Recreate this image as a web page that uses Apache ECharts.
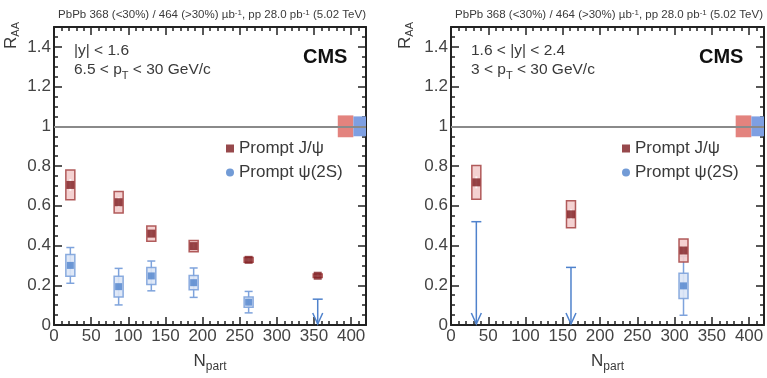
<!DOCTYPE html>
<html>
<head>
<meta charset="utf-8">
<script src="https://cdn.jsdelivr.net/npm/echarts@6/dist/echarts.min.js"></script>
<style>
  html, body { margin: 0; padding: 0; background: #fff; }
  #chart { width: 767px; height: 378px; }
</style>
</head>
<body>
<div id="chart"></div>
<script>
// |y| < 1.6 panel
var npartMid = [22, 87, 131, 188, 262, 355];
var jpsiMid = [0.705, 0.618, 0.46, 0.397, 0.328, 0.248];
var jpsiMidSyst = [0.075, 0.054, 0.038, 0.028, 0.012, 0.009];
var jpsiMidStat = [0.03, 0.025, 0.015, 0.012, 0.008, 0.006];
var psiNpartMid = [22, 87, 131, 188, 262];
var psiMid = [0.30, 0.193, 0.247, 0.213, 0.115];
var psiMidSyst = [0.055, 0.052, 0.043, 0.036, 0.026];
var psiMidStat = [0.09, 0.092, 0.075, 0.074, 0.054];
var psiMidLimitNpart = [355];
var psiMidLimit = [0.13];

// 1.6 < |y| < 2.4 panel
var npartFwd = [34, 161, 312];
var jpsiFwd = [0.718, 0.557, 0.375];
var jpsiFwdSyst = [0.085, 0.068, 0.058];
var jpsiFwdStat = [0.03, 0.025, 0.02];
var psiNpartFwd = [312];
var psiFwd = [0.197];
var psiFwdSyst = [0.064];
var psiFwdStat = [0.148];
var psiFwdLimitNpart = [34, 161];
var psiFwdLimit = [0.52, 0.29];

// global uncertainties (boxes at R_AA = 1)
var globalJpsi = [382, 403, 0.055];
var globalPsi = [403, 420, 0.05];

var yTicks = [0, 0.2, 0.4, 0.6, 0.8, 1, 1.2, 1.4];
var xTicks = [0, 50, 100, 150, 200, 250, 300, 350, 400];

var RED = '#7d1c1f', RED_BOX = '#a84a4a', RED_FILL = '#f3cccc';
var BLUE = '#4f82cc', BLUE_BOX = '#7ea3dc', BLUE_FILL = '#dbe6f6';
var TXT = '#3a3a3a';
var FONT = 'Liberation Sans, Arial, sans-serif';

var myChart = echarts.init(document.getElementById('chart'));

function zip4(a, b, c, d) {
  return a.map(function (v, i) { return [v, b[i], c[i], d[i]]; });
}

// box = systematic uncertainty, bar = statistical
function boxRender(stroke, fill, barColor, withCaps) {
  return function (params, api) {
    var x = api.value(0), y = api.value(1), s = api.value(2), e = api.value(3);
    var top = api.coord([x, y + s]), bot = api.coord([x, y - s]);
    var et = api.coord([x, y + e]), eb = api.coord([x, y - e]);
    var hw = 4.5;
    var kids = [];
    if (withCaps) {
      kids.push({ type: 'line', shape: { x1: et[0], y1: et[1], x2: eb[0], y2: eb[1] }, style: { stroke: barColor, lineWidth: 1.5 } });
      kids.push({ type: 'line', shape: { x1: et[0] - 4, y1: et[1], x2: et[0] + 4, y2: et[1] }, style: { stroke: barColor, lineWidth: 1.5 } });
      kids.push({ type: 'line', shape: { x1: eb[0] - 4, y1: eb[1], x2: eb[0] + 4, y2: eb[1] }, style: { stroke: barColor, lineWidth: 1.5 } });
    }
    kids.push({ type: 'rect', shape: { x: top[0] - hw, y: top[1], width: hw * 2, height: bot[1] - top[1] },
      style: { fill: fill, stroke: stroke, lineWidth: 1.5, opacity: 0.9 } });
    if (!withCaps) {
      kids.push({ type: 'line', shape: { x1: et[0], y1: et[1], x2: eb[0], y2: eb[1] }, style: { stroke: '#fff', lineWidth: 2, opacity: 0.8 } });
    }
    return { type: 'group', children: kids };
  };
}

function limitRender(params, api) {
  var x = api.value(0), ul = api.value(1);
  var t = api.coord([x, ul]), b = api.coord([x, 0]);
  var st = { stroke: BLUE, lineWidth: 1.5 };
  return { type: 'group', children: [
    { type: 'line', shape: { x1: t[0], y1: t[1], x2: b[0], y2: b[1] - 1 }, style: st },
    { type: 'line', shape: { x1: t[0] - 5, y1: t[1], x2: t[0] + 5, y2: t[1] }, style: st },
    { type: 'polyline', shape: { points: [[b[0] - 5, b[1] - 12], [b[0], b[1] - 1], [b[0] + 5, b[1] - 12]] }, style: { stroke: BLUE, lineWidth: 1.5, fill: null } }
  ] };
}

function globalRender(params, api) {
  var a = api.coord([api.value(0), 1 + api.value(2)]);
  var b = api.coord([api.value(1), 1 - api.value(2)]);
  return { type: 'rect', shape: { x: a[0], y: a[1], width: b[0] - a[0], height: b[1] - a[1] },
    style: { fill: api.visual('color') } };
}

function xAxes(grid) {
  var common = { type: 'value', min: 0, max: 420, interval: 50, gridIndex: grid,
    axisLine: { show: true, onZero: false, lineStyle: { color: '#222', width: 2 } },
    axisTick: { inside: true, length: 8, lineStyle: { color: '#222', width: 1.5 } },
    minorTick: { show: true, splitNumber: 5, length: 4, lineStyle: { color: '#222', width: 1.5 } },
    splitLine: { show: false } };
  return [
    Object.assign({}, common, { position: 'bottom',
      name: '{n|N}{s|part}', nameLocation: 'middle', nameGap: 24,
      nameTextStyle: { rich: { n: { fontSize: 17, color: TXT, fontFamily: FONT }, s: { fontSize: 12, color: TXT, fontFamily: FONT, padding: [12, 0, 0, 0] } } },
      axisLabel: { fontSize: 17, color: '#444', fontFamily: FONT, margin: 3, showMaxLabel: false } }),
    Object.assign({}, common, { position: 'top', axisLabel: { show: false } })
  ];
}

function yAxes(grid) {
  var common = { type: 'value', min: 0, max: 1.5, interval: 0.2, gridIndex: grid,
    axisLine: { show: true, onZero: false, lineStyle: { color: '#222', width: 2 } },
    axisTick: { inside: true, length: 8, lineStyle: { color: '#222', width: 1.5 } },
    minorTick: { show: true, splitNumber: 4, length: 4, lineStyle: { color: '#222', width: 1.5 } },
    splitLine: { show: false } };
  return [
    Object.assign({}, common, { position: 'left',
      axisLabel: { fontSize: 17, color: '#444', fontFamily: FONT, margin: 3, showMaxLabel: false,
        formatter: function (v) { return yTicks.indexOf(Math.round(v * 10) / 10) >= 0 ? String(Math.round(v * 10) / 10) : ''; } } }),
    Object.assign({}, common, { position: 'right', axisLabel: { show: false } })
  ];
}

function panelSeries(p, npart, jpsi, jSyst, jStat, psiN, psi, pSyst, pStat, limN, lim) {
  var xi = p * 2, yi = p * 2;
  return [
    { type: 'custom', name: 'global', xAxisIndex: xi, yAxisIndex: yi, renderItem: globalRender, silent: true,
      data: [globalJpsi], itemStyle: { color: '#e3837e' }, z: 1 },
    { type: 'custom', name: 'global2', xAxisIndex: xi, yAxisIndex: yi, renderItem: globalRender, silent: true,
      data: [globalPsi], itemStyle: { color: '#7e9fe2' }, z: 1 },
    { type: 'line', name: 'unity', xAxisIndex: xi, yAxisIndex: yi, data: [], silent: true,
      markLine: { symbol: 'none', silent: true, label: { show: false },
        lineStyle: { color: '#8a8a8a', width: 2, type: 'solid' }, data: [{ yAxis: 1 }] }, z: 2 },
    { type: 'custom', name: 'psiBox', xAxisIndex: xi, yAxisIndex: yi, z: 3,
      renderItem: boxRender(BLUE_BOX, BLUE_FILL, BLUE_BOX, true), data: zip4(psiN, psi, pSyst, pStat) },
    { type: 'custom', name: 'limit', xAxisIndex: xi, yAxisIndex: yi, z: 3,
      renderItem: limitRender, data: limN.map(function (v, i) { return [v, lim[i]]; }) },
    { type: 'custom', name: 'jpsiBox', xAxisIndex: xi, yAxisIndex: yi, z: 3,
      renderItem: boxRender(RED_BOX, RED_FILL, '#fff', false), data: zip4(npart, jpsi, jSyst, jStat) },
    { type: 'scatter', name: 'Prompt ψ(2S)', xAxisIndex: xi, yAxisIndex: yi, z: 4, symbol: 'rect', symbolSize: 7,
      itemStyle: { color: BLUE }, data: psiN.map(function (v, i) { return [v, psi[i]]; }) },
    { type: 'scatter', name: 'Prompt J/ψ', xAxisIndex: xi, yAxisIndex: yi, z: 5, symbol: 'rect', symbolSize: 8,
      itemStyle: { color: RED }, data: npart.map(function (v, i) { return [v, jpsi[i]]; }) }
  ];
}

// two x and two y axes per grid (bottom/top, left/right)
var xAx = xAxes(0).concat(xAxes(1));
var yAx = yAxes(0).concat(yAxes(1));

var series = panelSeries(0, npartMid, jpsiMid, jpsiMidSyst, jpsiMidStat, psiNpartMid, psiMid, psiMidSyst, psiMidStat, psiMidLimitNpart, psiMidLimit)
  .concat(panelSeries(1, npartFwd, jpsiFwd, jpsiFwdSyst, jpsiFwdStat, psiNpartFwd, psiFwd, psiFwdSyst, psiFwdStat, psiFwdLimitNpart, psiFwdLimit));

// empty series so top/right axes get an extent
[1, 3].forEach(function (i) {
  series.push({ type: 'line', xAxisIndex: i, yAxisIndex: i, data: [], silent: true });
});

var header = 'PbPb 368 (<30%) / 464 (>30%) µb{sup|-1}, pp 28.0 pb{sup|-1} (5.02 TeV)';
var headRich = { sup: { fontSize: 8, verticalAlign: 'top', padding: [0, 0, 5, 0], fill: TXT, fontFamily: FONT } };
var legendData = [{ name: 'Prompt J/ψ', icon: 'rect' }, { name: 'Prompt ψ(2S)', icon: 'circle' }];

function label(x, y, txt, size, bold) {
  return { type: 'text', x: x, y: y, style: { text: txt, fontSize: size, fontWeight: bold ? 'bold' : 'normal',
    fill: bold ? '#111' : TXT, fontFamily: FONT, textVerticalAlign: 'middle',
    rich: { s: { fontSize: 11, fill: TXT, fontFamily: FONT, padding: [11, 0, 0, 0] } } } };
}

var option = {
  animation: false,
  grid: [
    { left: 54, top: 27, width: 312, height: 300 },
    { left: 451, top: 27, width: 313, height: 300 }
  ],
  xAxis: xAx,
  yAxis: yAx,
  legend: [
    { orient: 'vertical', left: 221, top: 135, itemWidth: 8, itemHeight: 8, itemGap: 7, selectedMode: false,
      textStyle: { fontSize: 17, color: TXT, fontFamily: FONT }, data: legendData },
    { orient: 'vertical', left: 617, top: 135, itemWidth: 8, itemHeight: 8, itemGap: 7, selectedMode: false,
      textStyle: { fontSize: 17, color: TXT, fontFamily: FONT }, data: legendData }
  ],
  graphic: [
    { type: 'text', x: 366, y: 15, style: { text: header, fontSize: 11.5, fill: TXT, fontFamily: FONT, textAlign: 'right', textVerticalAlign: 'middle', rich: headRich } },
    { type: 'text', x: 763, y: 15, style: { text: header, fontSize: 11.5, fill: TXT, fontFamily: FONT, textAlign: 'right', textVerticalAlign: 'middle', rich: headRich } },
    { type: 'text', x: 11, y: 22, rotation: Math.PI / 2, style: { text: '{r|R}{s|AA}', textAlign: 'right', textVerticalAlign: 'middle',
      rich: { r: { fontSize: 17, fill: TXT, fontFamily: FONT }, s: { fontSize: 11, fill: TXT, fontFamily: FONT, padding: [10, 0, 0, 0] } } } },
    { type: 'text', x: 405, y: 22, rotation: Math.PI / 2, style: { text: '{r|R}{s|AA}', textAlign: 'right', textVerticalAlign: 'middle',
      rich: { r: { fontSize: 17, fill: TXT, fontFamily: FONT }, s: { fontSize: 11, fill: TXT, fontFamily: FONT, padding: [10, 0, 0, 0] } } } },
    label(74, 51, '|y| < 1.6', 15.5, false),
    label(74, 70, '6.5 < p{s|T} < 30 GeV/c', 15.5, false),
    label(303, 57, 'CMS', 20, true),
    label(471, 51, '1.6 < |y| < 2.4', 15.5, false),
    label(471, 70, '3 < p{s|T} < 30 GeV/c', 15.5, false),
    label(699, 57, 'CMS', 20, true)
  ],
  series: series
};

myChart.setOption(option);
window.addEventListener('resize', function () {
  myChart.resize();
});
</script>
</body>
</html>
